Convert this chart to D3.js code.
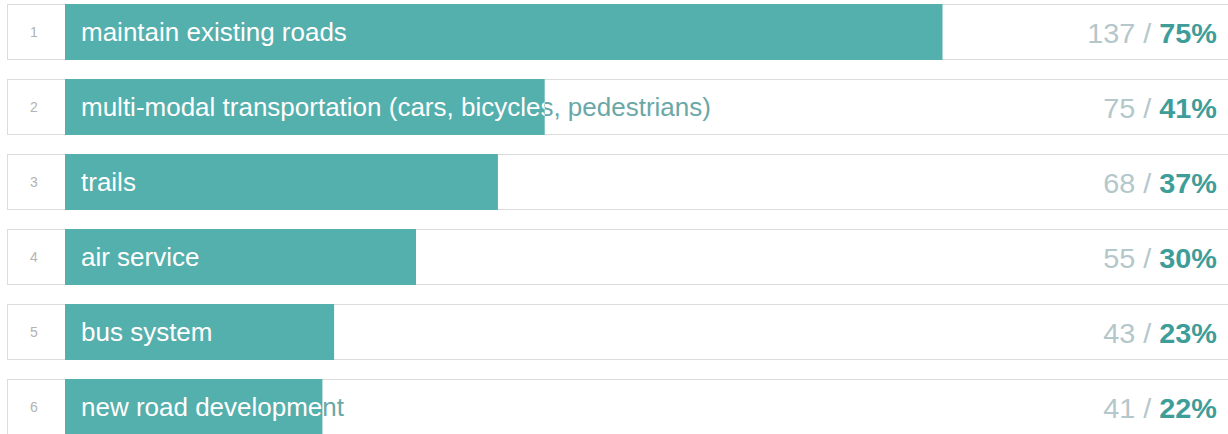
<!DOCTYPE html>
<html>
<head>
<meta charset="utf-8">
<script src="https://cdn.jsdelivr.net/npm/d3@7"></script>
<style>
  html, body { margin: 0; padding: 0; background: #ffffff; }
  svg { display: block; }
</style>
</head>
<body>
<svg id="chart" width="1228" height="434"></svg>
<script>
// Survey answers, ranked by number of responses
const categories = [
  "maintain existing roads",
  "multi-modal transportation (cars, bicycles, pedestrians)",
  "trails",
  "air service",
  "bus system",
  "new road development"
];
const counts = [137, 75, 68, 55, 43, 41];
const percents = [75, 41, 37, 30, 23, 22];
const ranks = [1, 2, 3, 4, 5, 6];

const svg = d3.select("#chart");

const boxLeft = 7, boxRight = 1240;
const barLeft = 65;
const font = "Liberation Sans, Arial, sans-serif";
const labelStretch = 1.04;

// 56px rows on a 75px pitch
const y = d3.scaleBand()
  .domain(ranks)
  .range([4, 4 + 75 * ranks.length - 19])
  .paddingInner(19 / 75)
  .paddingOuter(0);

const x = d3.scaleLinear().domain([0, 100]).range([barLeft, barLeft + 1170]);

const rows = ranks.map((r, i) => ({
  rank: r, label: categories[i], count: counts[i], pct: percents[i]
}));

const defs = svg.append("defs");

const g = svg.selectAll("g.row").data(rows).join("g")
  .attr("class", "row")
  .attr("transform", d => `translate(0,${y(d.rank)})`);

// row frame
g.append("rect")
  .attr("x", boxLeft + 0.5).attr("y", 0.5)
  .attr("width", boxRight - boxLeft).attr("height", y.bandwidth() - 1)
  .attr("fill", "#ffffff").attr("stroke", "#dcdcdc").attr("stroke-width", 1);

// bar
g.append("rect")
  .attr("x", barLeft).attr("y", 0)
  .attr("width", d => x(d.pct) - barLeft).attr("height", y.bandwidth())
  .attr("fill", "#53b0ad");

// clip regions matching each bar, so the label turns white over the bar
defs.selectAll("clipPath").data(rows).join("clipPath")
  .attr("id", d => "clip" + d.rank)
  .append("rect")
  .attr("x", barLeft).attr("y", 0)
  .attr("width", d => x(d.pct) - barLeft).attr("height", y.bandwidth());

const mid = y.bandwidth() / 2;

// rank number
g.append("text")
  .attr("x", 34).attr("y", mid + 5)
  .attr("text-anchor", "middle")
  .attr("font-family", font)
  .attr("font-size", 14)
  .attr("fill", "#b3b3b3")
  .text(d => d.rank);

// label outside the bar
g.append("text")
  .attr("transform", `translate(81,${mid + 9}) scale(${labelStretch},1)`)
  .attr("font-family", font)
  .attr("font-size", 25)
  .attr("fill", "#6aa8a7")
  .text(d => d.label);

// label over the bar
g.append("g")
  .attr("clip-path", d => `url(#clip${d.rank})`)
  .append("text")
  .attr("transform", `translate(81,${mid + 9}) scale(${labelStretch},1)`)
  .attr("font-family", font)
  .attr("font-size", 25)
  .attr("fill", "#ffffff")
  .text(d => d.label);

// count / percent
const val = g.append("text")
  .attr("transform", `translate(1217,${mid + 10.5}) scale(1.03,1)`)
  .attr("text-anchor", "end")
  .attr("font-family", font)
  .attr("font-size", 28);
val.append("tspan").attr("fill", "#b4c7cb").text(d => `${d.count} / `);
val.append("tspan").attr("fill", "#3f9d99").attr("font-weight", "bold").text(d => `${d.pct}%`);
</script>
</body>
</html>
